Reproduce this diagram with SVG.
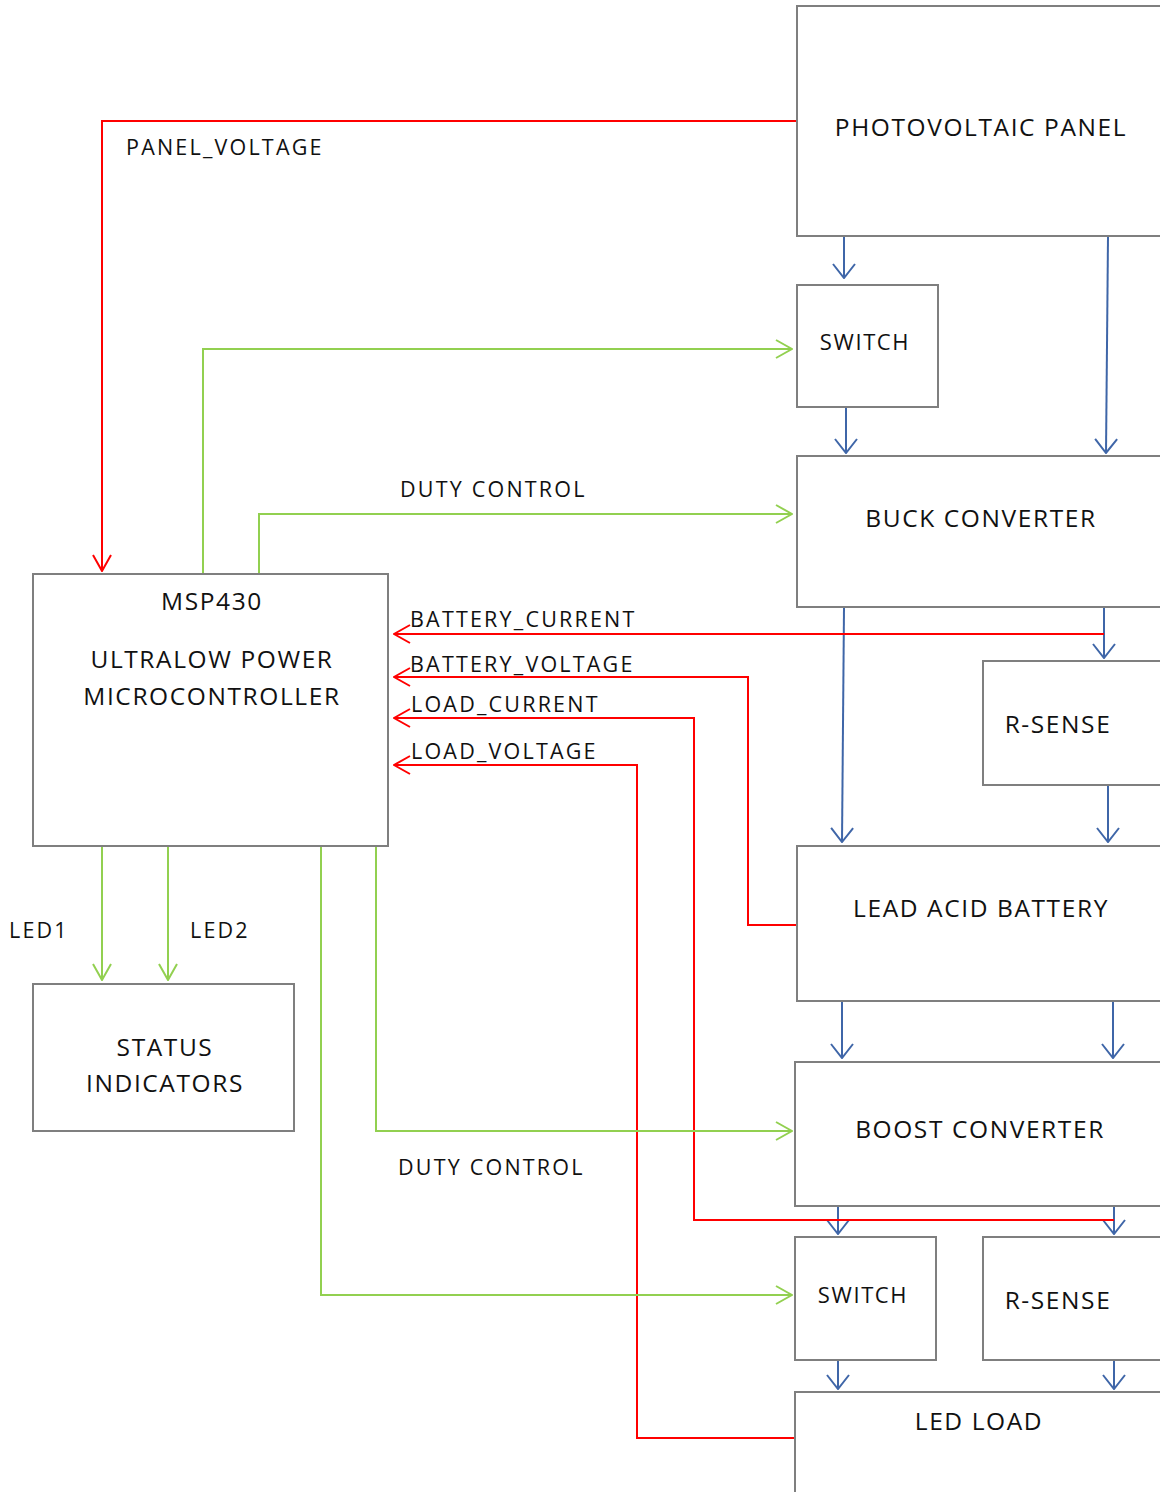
<svg xmlns="http://www.w3.org/2000/svg" width="1160" height="1492" viewBox="0 0 1160 1492">
<style>
.box{fill:#fff;stroke:#7f7f7f;stroke-width:2}
.t{font-family:"Open Sans","Liberation Sans",sans-serif;font-size:24.5px;letter-spacing:1.6px;fill:#111;text-anchor:middle;dominant-baseline:central}
.s{font-size:22px}
.l{font-family:"Open Sans","Liberation Sans",sans-serif;font-size:21.5px;letter-spacing:2.2px;fill:#111;dominant-baseline:central}
.b{fill:none;stroke:#3f66a8;stroke-width:2;marker-end:url(#ab)}
.r{fill:none;stroke:#ff0000;stroke-width:2;marker-end:url(#ar)}
.g{fill:none;stroke:#92d050;stroke-width:2;marker-end:url(#ag)}
</style>
<defs>
<marker id="ab" viewBox="0 0 16 24" refX="15" refY="12" markerWidth="16" markerHeight="24" markerUnits="userSpaceOnUse" orient="auto"><path d="M1,1 L15,12 L1,23" fill="none" stroke="#3f66a8" stroke-width="2"/></marker>
<marker id="ar" viewBox="0 0 18 20" refX="17" refY="10" markerWidth="18" markerHeight="20" markerUnits="userSpaceOnUse" orient="auto"><path d="M1,1 L17,10 L1,19" fill="none" stroke="#ff0000" stroke-width="2"/></marker>
<marker id="ag" viewBox="0 0 18 20" refX="17" refY="10" markerWidth="18" markerHeight="20" markerUnits="userSpaceOnUse" orient="auto"><path d="M1,1 L17,10 L1,19" fill="none" stroke="#92d050" stroke-width="2"/></marker>
</defs>
<rect width="1160" height="1492" fill="#fff"/>
<g id="connectors">
<path class="b" d="M844,237 L844,278"/>
<path class="b" d="M1108,237 L1106,453"/>
<path class="b" d="M846,408 L846,453"/>
<path class="b" d="M844,608 L842,842"/>
<path class="b" d="M1104,608 L1104,658"/>
<path class="b" d="M1108,786 L1108,842"/>
<path class="b" d="M842,1002 L842,1058"/>
<path class="b" d="M1113,1002 L1113,1058"/>
<path class="b" d="M838,1207 L838,1234"/>
<path class="b" d="M1114,1207 L1114,1234"/>
<path class="b" d="M838,1361 L838,1389"/>
<path class="b" d="M1114,1361 L1114,1389"/>
<path class="r" d="M797,121 L102,121 L102,571"/>
<path class="r" d="M1104,634 L394,634"/>
<path class="r" d="M797,925 L748,925 L748,677 L394,677"/>
<path class="r" d="M1114,1220 L694,1220 L694,718 L394,718"/>
<path class="r" d="M797,1438 L637,1438 L637,765 L394,765"/>
<path class="g" d="M203,574 L203,349 L792,349"/>
<path class="g" d="M259,574 L259,514 L792,514"/>
<path class="g" d="M102,847 L102,980"/>
<path class="g" d="M168,847 L168,980"/>
<path class="g" d="M376,847 L376,1131 L792,1131"/>
<path class="g" d="M321,847 L321,1295 L792,1295"/>
<text class="l" x="126" y="146">PANEL_VOLTAGE</text>
<text class="l" x="400" y="488">DUTY CONTROL</text>
<text class="l" x="410" y="618">BATTERY_CURRENT</text>
<text class="l" x="410" y="663">BATTERY_VOLTAGE</text>
<text class="l" x="411" y="703">LOAD_CURRENT</text>
<text class="l" x="411" y="750">LOAD_VOLTAGE</text>
<text class="l" x="9" y="929">LED1</text>
<text class="l" x="190" y="929">LED2</text>
<text class="l" x="398" y="1166">DUTY CONTROL</text>
</g>
<g id="pv"><rect class="box" x="797" y="6" width="380" height="230"/><text class="t" x="981" y="126">PHOTOVOLTAIC PANEL</text></g>
<g id="switch1"><rect class="box" x="797" y="285" width="141" height="122"/><text class="t s" x="865" y="341">SWITCH</text></g>
<g id="buck"><rect class="box" x="797" y="456" width="380" height="151"/><text class="t" x="981" y="517">BUCK CONVERTER</text></g>
<g id="rsense1"><rect class="box" x="983" y="661" width="190" height="124"/><text class="t" x="1058" y="723">R-SENSE</text></g>
<g id="battery"><rect class="box" x="797" y="846" width="380" height="155"/><text class="t" x="981" y="907">LEAD ACID BATTERY</text></g>
<g id="boost"><rect class="box" x="795" y="1062" width="380" height="144"/><text class="t" x="980" y="1128">BOOST CONVERTER</text></g>
<g id="switch2"><rect class="box" x="795" y="1237" width="141" height="123"/><text class="t s" x="863" y="1294">SWITCH</text></g>
<g id="rsense2"><rect class="box" x="983" y="1237" width="190" height="123"/><text class="t" x="1058" y="1299">R-SENSE</text></g>
<g id="ledload"><rect class="box" x="795" y="1392" width="380" height="120"/><text class="t" x="979" y="1420">LED LOAD</text></g>
<g id="msp430"><rect class="box" x="33" y="574" width="355" height="272"/><text class="t" x="212" y="600">MSP430</text><text class="t" x="212" y="658">ULTRALOW POWER</text><text class="t" x="212" y="695">MICROCONTROLLER</text></g>
<g id="status"><rect class="box" x="33" y="984" width="261" height="147"/><text class="t" x="165" y="1046">STATUS</text><text class="t" x="165" y="1082">INDICATORS</text></g>
</svg>
